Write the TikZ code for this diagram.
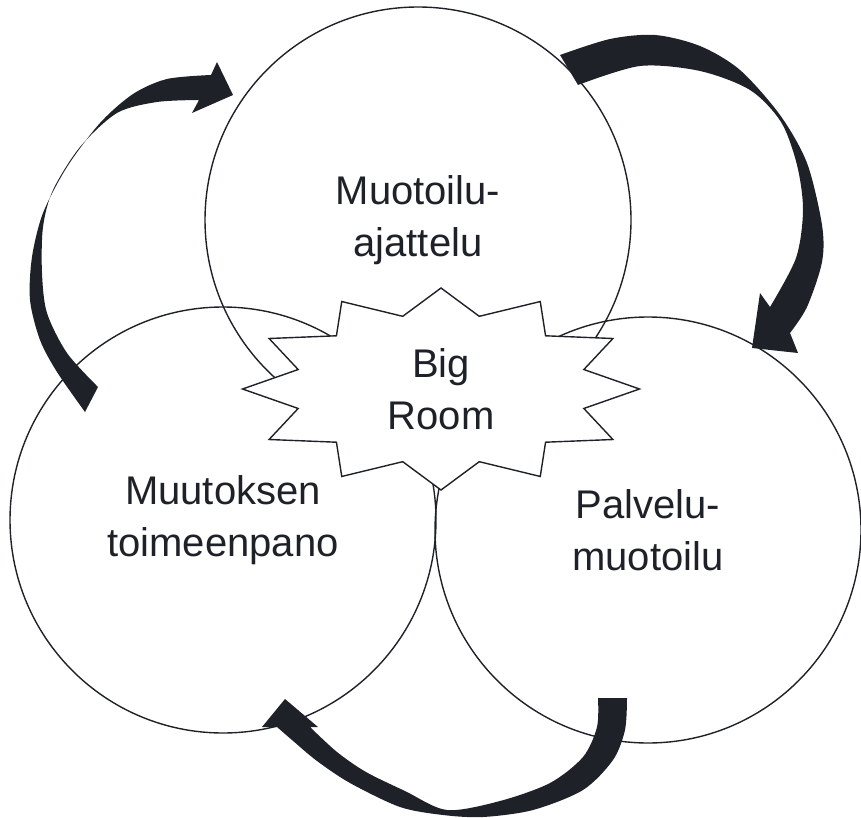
\documentclass[tikz,border=0pt]{standalone}
\usepackage{fontspec}
\setmainfont{Liberation Sans}
\definecolor{ink}{RGB}{30,34,40}
\begin{document}
\begin{tikzpicture}[x=1pt,y=-1pt,
  zone/.style={circle, draw=ink, line width=1.4pt, minimum size=426pt,
    inner sep=0pt, align=center, text=ink, font=\fontsize{40}{52}\selectfont},
  burst/.style={fill=white, draw=ink, line width=1.4pt, line join=miter},
  roomtext/.style={align=center, text=ink, inner sep=0pt,
    font=\fontsize{40}{52}\selectfont},
  flow/.style={fill=ink}]
\useasboundingbox (0,0) rectangle (861,818);

% the three overlapping areas
\node[zone] (think)   at (418,220) {Muotoilu-\\ajattelu};
\node[zone] (change)  at (223,520) {Muutoksen\\toimeenpano};
\node[zone] (service) at (648,530) {Palvelu-\\muotoilu};

% twelve-pointed burst in the middle
\filldraw[burst, shift={(441,389)}, xscale=198.5, yscale=101]
  (90:1) \foreach \a in {0,30,...,330} { -- ({75-\a}:0.745) -- ({60-\a}:1) } -- cycle;
\node[roomtext] (room) at (441,389) {Big\\Room};

% curved block arrows running clockwise round the circles
% think -> service
\fill[flow]
  plot[smooth] coordinates {(560,55) (610,39) (655,35) (700,46) (740,70)
    (780,115) (807,163) (822,225) (822,262) (807,307) (790,333)}
  -- (798,353) -- (752,348) -- (760,293)
  -- plot[smooth] coordinates {(770,307) (796,258) (803,210) (797,165)
    (781,122) (750,90) (700,71) (640,66) (578,85)}
  -- cycle;
% service -> change
\fill[flow]
  plot[smooth] coordinates {(627,698) (625,730) (613,760) (583,790) (533,810)
    (483,817) (443,815) (400,807) (350,783) (317,761) (292,740) (277,727)}
  -- (262,727) -- (285,699) -- (318,727)
  -- plot[smooth] coordinates {(310,727) (337,752) (366,772) (405,791)
    (447,810) (500,801) (550,783) (583,757) (597,727) (598,698)}
  -- cycle;
% change -> think
\fill[flow]
  plot[smooth] coordinates {(85,412) (57,372) (40,340) (30,300) (32,257)
    (43,213) (67,167) (100,123) (133,94) (167,79) (211,75)}
  -- (217,62) -- (233,95) -- (192,113)
  -- plot[smooth] coordinates {(199,100) (157,102) (117,113) (80,147)
    (53,190) (43,227) (42,273) (47,313) (67,353) (98,387)}
  -- cycle;
\end{tikzpicture}
\end{document}
